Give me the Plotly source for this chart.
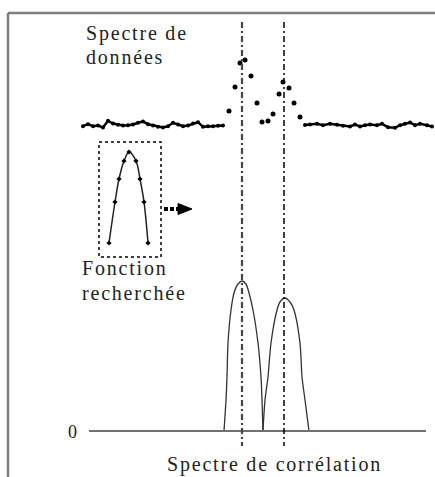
import plotly.graph_objects as go

# --- Spectre de données : canaux (x) et niveaux lus (y, axe vers le bas) ---
base_left_x = [83, 88, 93, 98, 103, 108, 113, 118, 123, 128, 133, 138, 143, 148, 153,
               158, 163, 168, 173, 178, 183, 188, 193, 198, 203, 208, 213, 218, 223]
base_left_y = [126.2, 124.2, 126.2, 125.5, 127.5, 120.8, 123.5, 124.8, 125.5, 125.2,
               124.5, 122.8, 121.5, 124.2, 125.5, 126.8, 127.5, 126.2, 122.8, 124.5,
               126.2, 125.5, 123.5, 122.2, 126.8, 126.2, 126.2, 125.8, 125.5]
peak_x = [229, 235, 240, 245, 251, 257, 262, 268, 273, 279, 283, 289, 294, 300]
peak_y = [111, 87, 63, 60, 76, 103, 122, 121, 114, 94, 82, 88, 103, 117]
base_right_x = [305, 310, 317, 323, 330, 337, 343, 350, 355, 360, 365, 370, 377, 382,
                388, 395, 400, 405, 410, 415, 420, 427, 432]
base_right_y = [125, 124.5, 123.8, 125.2, 123.8, 124.8, 125.8, 126.5, 124.5, 126.5,
                125.2, 124.5, 125.2, 123.8, 127.2, 127.8, 125.2, 123.8, 122.5, 125.2,
                123.8, 125.2, 126.5]

# --- Fonction recherchée (profil de raie) ---
model_x = [109, 115, 119, 124, 129, 136, 140, 144, 148]
model_y = [243, 202, 179, 161, 152, 161, 179, 202, 243]

# --- Spectre de corrélation : deux pics ---
corr1_x = [224, 226, 227, 228, 231, 234, 238, 242, 246, 249, 253, 258, 261, 262, 263]
corr1_y = [431, 400, 377, 343, 310, 293, 284, 281, 284, 293, 310, 343, 377, 400, 431]
corr2_x = [263, 265, 268, 271, 277, 280, 285, 290, 294, 300, 302, 305, 309]
corr2_y = [431, 400, 377, 343, 310, 302, 298, 302, 310, 343, 377, 400, 431]
corr_peaks = [242, 284]
zero_level = 431
axis_span = [89, 426]

W, H = 435, 477
FONT = "Liberation Serif"
INK = "black"


def spaced(txt, ls=1.8):
    return f'<span style="letter-spacing:{ls}px">{txt}</span>'


fig = go.Figure()

# spectre de données : points denses de la ligne de base reliés, pics en points isolés
for bx, by in [(base_left_x, base_left_y), (base_right_x, base_right_y)]:
    fig.add_trace(go.Scatter(x=bx, y=by, mode="lines+markers",
                             line=dict(color=INK, width=2.5),
                             marker=dict(color=INK, size=4),
                             hoverinfo="skip", showlegend=False))
fig.add_trace(go.Scatter(x=peak_x, y=peak_y, mode="markers",
                         marker=dict(color=INK, size=5),
                         hoverinfo="skip", showlegend=False))

# fonction recherchée
fig.add_trace(go.Scatter(x=model_x, y=model_y, mode="lines+markers",
                         line=dict(color="#222", width=1.5, shape="spline"),
                         marker=dict(color=INK, size=4, symbol="diamond"),
                         hoverinfo="skip", showlegend=False))

# spectre de corrélation
for cx, cy in [(corr1_x, corr1_y), (corr2_x, corr2_y)]:
    fig.add_trace(go.Scatter(x=cx, y=cy, mode="lines",
                             line=dict(color="#333", width=1.3, shape="spline", smoothing=0.8),
                             hoverinfo="skip", showlegend=False))

shapes = []
# cadre (bords haut et gauche)
shapes.append(dict(type="line", x0=8, x1=W, y0=13, y1=13, line=dict(color="#808080", width=2.5)))
shapes.append(dict(type="line", x0=8, x1=8, y0=13, y1=H, line=dict(color="#808080", width=2.5)))
# axe du zéro
shapes.append(dict(type="line", x0=axis_span[0], x1=axis_span[1], y0=zero_level, y1=zero_level,
                   line=dict(color="#707070", width=2)))
# repères verticaux des positions trouvées
for i, px in enumerate(corr_peaks):
    shapes.append(dict(type="line", x0=px, x1=px, y0=22, y1=446,
                       line=dict(color="#444" if i == 0 else INK, width=2.2 if i == 0 else 1.5,
                                 dash="6px,3px,2px,3px")))
# cadre pointillé autour de la fonction recherchée
shapes.append(dict(type="rect", x0=99, x1=161, y0=142, y1=257,
                   line=dict(color=INK, width=1.5, dash="dot")))
# flèche de glissement
shapes.append(dict(type="line", x0=164, x1=179, y0=209, y1=209,
                   line=dict(color=INK, width=4, dash="4px,2px")))
shapes.append(dict(type="path", path="M 178 203.5 L 192 209 L 178 214.5 Z",
                   fillcolor=INK, line=dict(color=INK, width=1)))

annotations = []
def label(txt, x, y, xanchor="left", size=20):
    annotations.append(dict(x=x, y=y, xref="x", yref="y", text=spaced(txt),
                            showarrow=False, xanchor=xanchor, yanchor="middle",
                            font=dict(family=FONT, size=size, color="#222")))

label("Spectre de", 84, 33)
label("données", 84, 57)
label("Fonction", 80, 268)
label("recherchée", 80, 293)
label("0", 73, 432, xanchor="center", size=18)
label("Spectre de corrélation", 274, 464, xanchor="center")

fig.update_layout(
    width=W, height=H,
    margin=dict(l=0, r=0, t=0, b=0),
    paper_bgcolor="white", plot_bgcolor="white",
    xaxis=dict(range=[0, W], visible=False, fixedrange=True),
    yaxis=dict(range=[H, 0], visible=False, fixedrange=True),
    shapes=shapes, annotations=annotations,
    showlegend=False,
)

fig.write_html("out.html")
